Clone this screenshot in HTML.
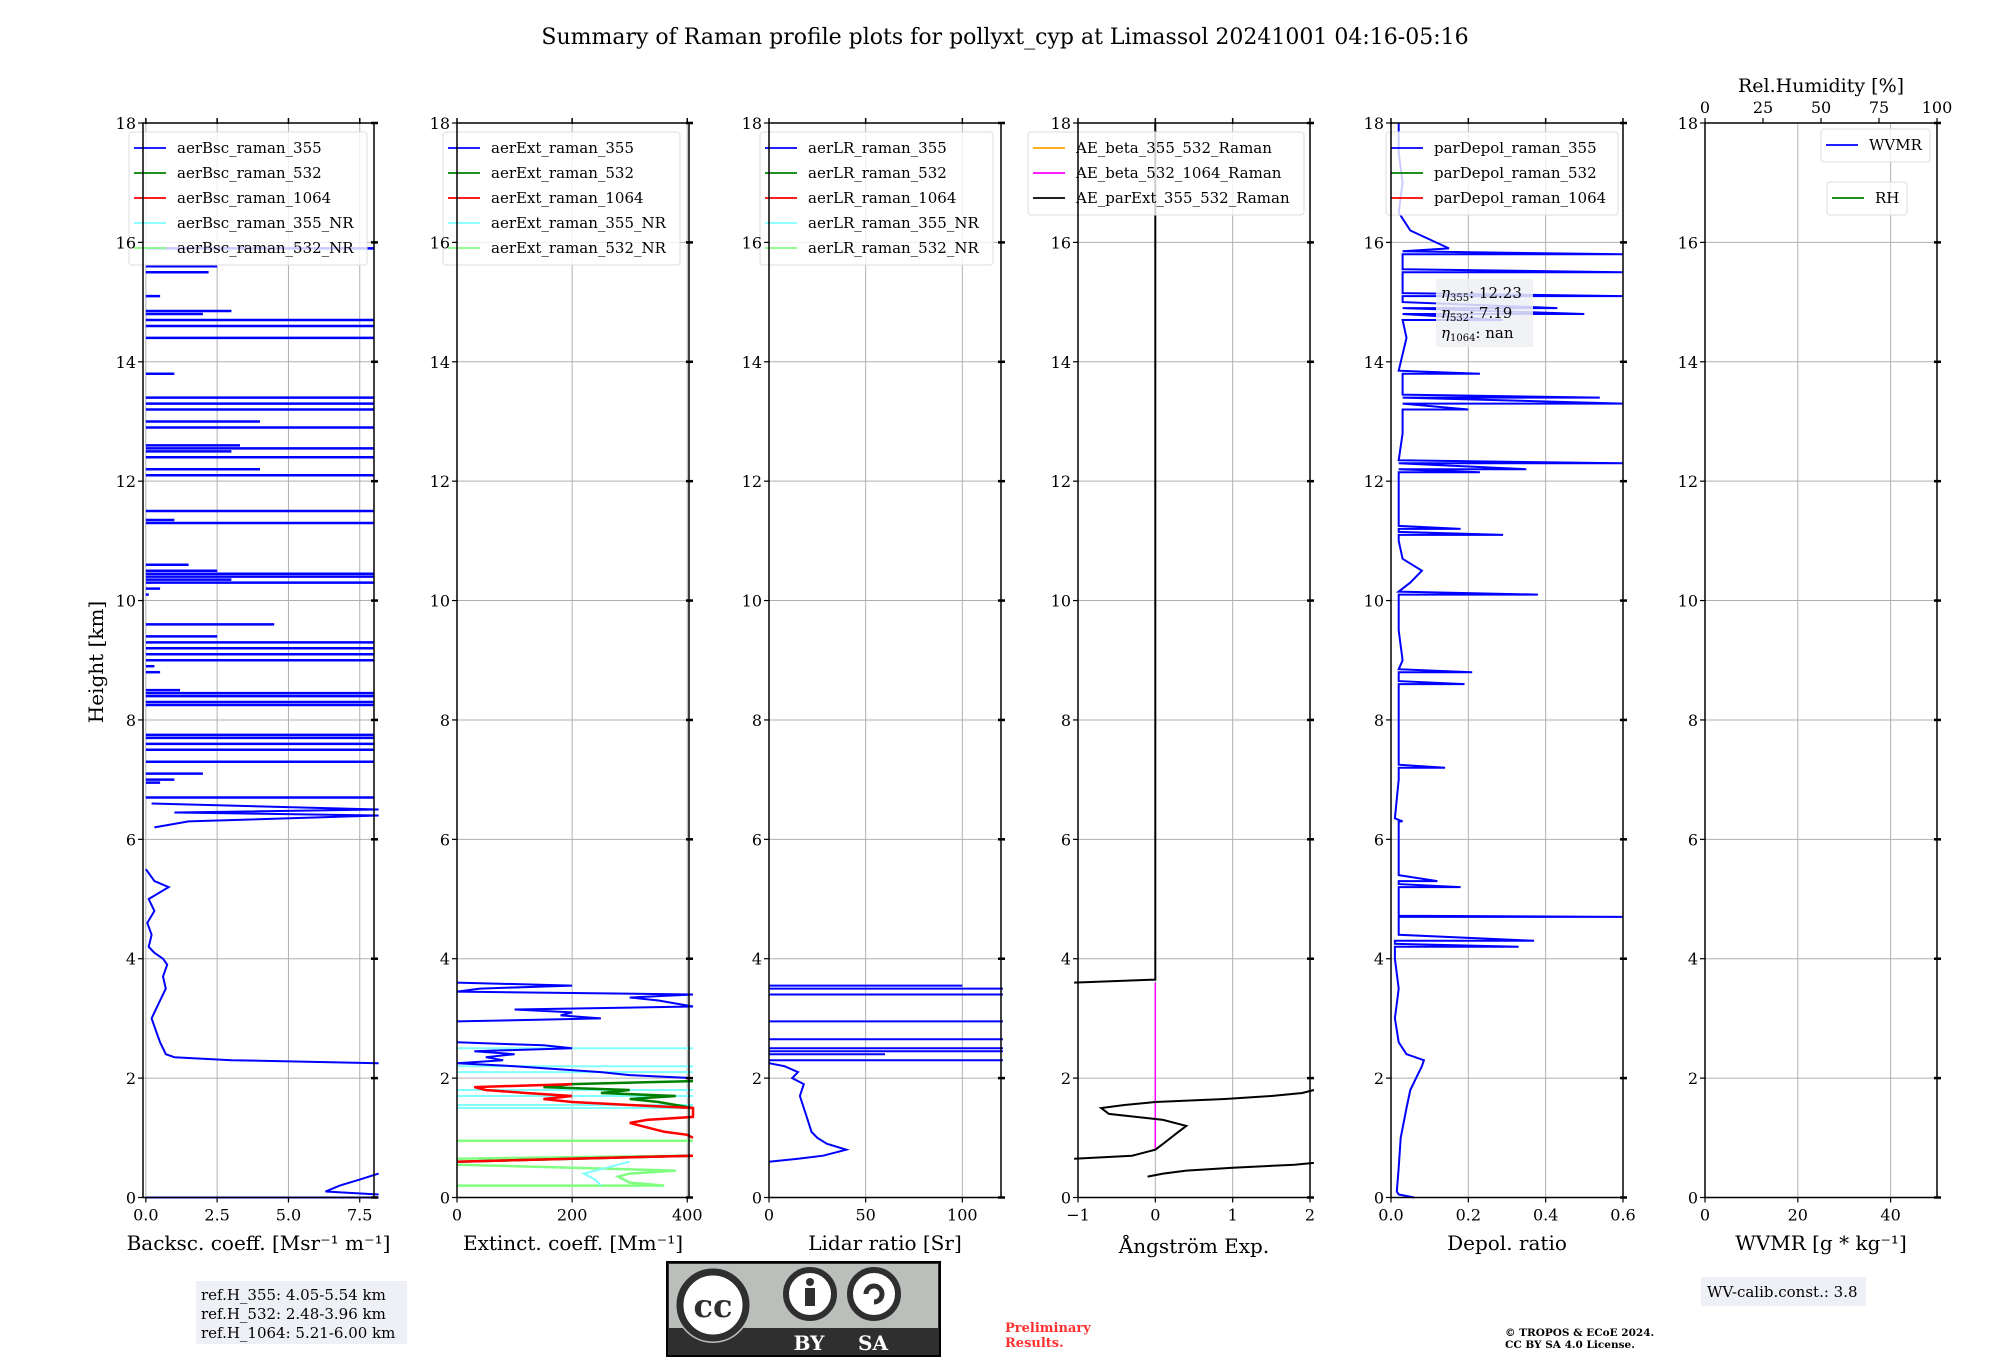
<!DOCTYPE html>
<html><head><meta charset="utf-8">
<style>
body{margin:0;background:#fff;}
svg text{font-family:"DejaVu Serif","Liberation Serif",serif;}
</style></head>
<body>
<svg id="fig" width="2000" height="1360" xmlns="http://www.w3.org/2000/svg">
<rect width="2000" height="1360" fill="#fff"/>
<text x="1005" y="44" font-size="22" text-anchor="middle">Summary of Raman profile plots for pollyxt_cyp at Limassol 20241001 04:16-05:16</text>
<text transform="translate(103,662) rotate(-90)" font-size="20" text-anchor="middle">Height [km]</text>
<g id="panels"></g>
<g>
<rect x="196" y="1281" width="211" height="63" fill="#eef0f5"/>
<text x="201" y="1300" font-size="15">ref.H_355: 4.05-5.54 km</text>
<text x="201" y="1319" font-size="15">ref.H_532: 2.48-3.96 km</text>
<text x="201" y="1338" font-size="15">ref.H_1064: 5.21-6.00 km</text>
</g>
<g>
<rect x="667" y="1262" width="273" height="94" fill="#2f2f2f" stroke="#000" stroke-width="2"/>
<rect x="669" y="1264" width="269" height="64" fill="#bbbfbb"/>
<circle cx="713" cy="1305" r="38" fill="#bbbfbb"/>
<circle cx="713" cy="1305" r="33" fill="#fff" stroke="#2f2f2f" stroke-width="7"/>
<text x="713" y="1317" font-size="32" font-weight="bold" text-anchor="middle" fill="#2f2f2f" font-family="Liberation Sans,sans-serif">cc</text>
<circle cx="810" cy="1294" r="24" fill="#fff" stroke="#2f2f2f" stroke-width="6"/>
<circle cx="810" cy="1282" r="4" fill="#2f2f2f"/><rect x="805" y="1288" width="10" height="18" fill="#2f2f2f"/>
<circle cx="874" cy="1294" r="24" fill="#fff" stroke="#2f2f2f" stroke-width="6"/>
<path d="M866 1294 a8 8 0 1 1 8 8" fill="none" stroke="#2f2f2f" stroke-width="5"/>
<text x="809" y="1350" font-size="20" font-weight="bold" fill="#fff" text-anchor="middle" font-family="Liberation Sans,sans-serif">BY</text>
<text x="873" y="1350" font-size="20" font-weight="bold" fill="#fff" text-anchor="middle" font-family="Liberation Sans,sans-serif">SA</text>
</g>
<text x="1005" y="1332" font-size="13" font-weight="bold" fill="#ff3030">Preliminary</text>
<text x="1005" y="1347" font-size="13" font-weight="bold" fill="#ff3030">Results.</text>
<text x="1505" y="1336" font-size="10.5" font-weight="bold">© TROPOS &amp; ECoE 2024.</text>
<text x="1505" y="1348" font-size="10.5" font-weight="bold">CC BY SA 4.0 License.</text>
<g>
<rect x="1701" y="1277" width="165" height="29" fill="#eef0f5"/>
<text x="1707" y="1297" font-size="15">WV-calib.const.: 3.8</text>
</g>
</svg>
<script>
var bsc355H=[0,0,null,0.05,0.1,0.2,0.3,0.4,null,2.25,2.3,2.35,2.4,2.5,2.6,2.8,3.0,3.1,3.3,3.5,3.7,3.9,4.0,4.1,4.2,4.4,4.6,4.8,5.0,5.2,5.3,5.5,null,6.2,6.3,6.4,6.45,6.5,6.6];
var bsc355V=[0,8.2,null,8.2,6.3,6.8,7.5,8.2,null,8.2,3,1.0,0.7,0.6,0.5,0.35,0.2,0.3,0.5,0.7,0.6,0.75,0.6,0.3,0.1,0.2,0.05,0.3,0.1,0.8,0.3,0.0,null,0.3,1.5,8.2,1.0,8.2,0.2];
var bscSpikeH=[6.7,6.95,7.0,7.1,7.3,7.5,7.6,7.7,7.75,8.25,8.3,8.4,8.45,8.5,8.8,8.9,9.0,9.1,9.2,9.3,9.4,9.6,10.1,10.2,10.3,10.35,10.4,10.45,10.5,10.6,11.3,11.35,11.5,12.1,12.2,12.4,12.5,12.55,12.6,12.9,13.0,13.2,13.3,13.4,13.8,14.4,14.6,14.7,14.8,14.85,15.1,15.5,15.6,15.9];
var bscSpikeV=[8.2,0.5,1.0,2.0,8.2,8.2,8.2,8.2,8.2,8.2,8.2,8.2,8.2,1.2,0.5,0.3,8.2,8.2,8.2,8.2,2.5,4.5,0.1,0.5,8.2,3,8.2,8.2,2.5,1.5,8.2,1,8.2,8.2,4,8.2,3,8.2,3.3,8.2,4,8.2,8.2,8.2,1,8.2,8.2,8.2,2,3,0.5,2.2,2.5,8.2];
var ext355H=[2.0,2.05,2.1,2.2,2.25,2.3,2.35,2.4,2.45,2.5,2.55,2.6,null,2.95,3.0,3.05,3.1,3.15,3.2,3.3,3.35,3.4,3.45,3.5,3.55,3.6];
var ext355V=[410,300,250,100,0,80,50,100,30,200,150,0,null,0,250,180,200,100,410,350,300,410,0,40,200,0];
var ext532H=[0.6,0.7,null,1.5,1.6,1.65,1.7,1.75,1.8,1.85,1.9,1.95];
var ext532V=[0,410,null,410,350,300,380,250,300,150,200,410];
var ext1064H=[0.6,0.7,null,1.0,1.05,1.1,1.2,1.25,1.3,1.35,1.5,1.55,1.6,1.65,1.7,1.75,1.8,1.85,1.9];
var ext1064V=[0,410,null,410,400,360,320,300,330,410,410,300,200,150,200,120,50,30,200];
var ext355NRH=[0.2,0.3,0.4,0.5,0.6,null,1.5,1.5,null,1.55,1.55,null,1.7,1.7,null,1.8,1.8,null,2.1,2.1,null,2.2,2.2,null,2.5,2.5];
var ext355NRV=[250,240,220,260,300,null,0,410,null,0,410,null,0,410,null,0,410,null,0,410,null,0,410,null,0,410];
var ext532NRH=[0.2,0.2,0.25,0.35,0.4,0.45,0.5,0.55,null,0.65,0.7,null,0.95,0.95];
var ext532NRV=[0,360,300,280,300,380,200,0,null,0,410,null,0,410];
var lrH=[0.6,0.65,0.7,0.8,0.9,1.0,1.1,1.3,1.5,1.7,1.9,2.0,2.1,2.2,2.25,null,2.3,2.3,null,2.4,2.4,null,2.45,2.45,null,2.5,2.5,null,2.65,2.65,null,2.95,2.95,null,3.4,3.4,null,3.5,3.5,null,3.55,3.55];
var lrV=[0,15,28,40,30,25,22,20,18,16,18,12,15,8,0,null,0,121,null,0,60,null,0,121,null,0,121,null,0,121,null,0,121,null,0,121,null,0,121,null,0,100];
var aeH=[0.35,0.4,0.45,0.5,0.55,0.58,null,0.65,0.7,0.8,0.9,1.0,1.1,1.2,1.3,1.4,1.5,1.55,1.6,1.65,1.7,1.75,1.8,null,3.6,3.65,18];
var aeV=[-0.1,0.1,0.4,1.0,1.8,2.05,null,-1.05,-0.3,0,0.1,0.2,0.3,0.4,0.1,-0.6,-0.7,-0.4,0,0.9,1.5,1.9,2.05,null,-1.05,0,0];
var ae532H=[0.8,3.6];
var ae532V=[0,0];
var dpH=[0,0.05,0.1,0.5,1.0,1.5,1.8,2.0,2.2,2.3,2.4,2.6,3.0,3.5,4.0,4.2,4.2,4.25,4.3,4.3,4.4,4.7,4.7,4.72,5.0,5.2,5.2,5.25,5.3,5.3,5.4,6.0,6.3,6.3,6.35,7.0,7.2,7.2,7.25,8.0,8.6,8.6,8.65,8.8,8.8,8.85,9.0,9.5,10.1,10.1,10.15,10.3,10.5,10.7,11.0,11.1,11.1,11.15,11.2,11.2,11.25,12.0,12.15,12.15,12.2,12.2,12.3,12.3,12.35,12.8,13.2,13.2,13.3,13.3,13.4,13.4,13.45,13.8,13.8,13.85,14.4,14.7,14.7,14.8,14.8,14.9,14.9,15.0,15.1,15.1,15.15,15.5,15.5,15.55,15.8,15.8,15.85,15.9,16.2,16.5,17.0,17.5,18];
var dpV=[0.06,0.02,0.015,0.02,0.025,0.04,0.05,0.065,0.08,0.085,0.04,0.02,0.01,0.02,0.01,0.01,0.33,0.01,0.01,0.37,0.02,0.02,0.6,0.02,0.02,0.02,0.18,0.02,0.02,0.12,0.02,0.02,0.02,0.03,0.01,0.02,0.02,0.14,0.02,0.02,0.02,0.19,0.02,0.02,0.21,0.02,0.03,0.02,0.02,0.38,0.02,0.05,0.08,0.03,0.02,0.02,0.29,0.02,0.02,0.18,0.02,0.02,0.02,0.23,0.02,0.35,0.02,0.6,0.02,0.03,0.03,0.2,0.03,0.6,0.03,0.54,0.03,0.03,0.23,0.02,0.04,0.03,0.29,0.03,0.5,0.03,0.43,0.03,0.03,0.6,0.03,0.03,0.6,0.03,0.03,0.6,0.03,0.15,0.05,0.02,0.03,0.02,0.02];

var Y0=1197.5, Y18=123;
function yS(h){return Y0+(Y18-Y0)*h/18;}
var NS="http://www.w3.org/2000/svg";
var root=document.getElementById('panels');
function mk(tag,attrs,parent){var e=document.createElementNS(NS,tag);for(var k in attrs)e.setAttribute(k,attrs[k]);(parent||root).appendChild(e);return e;}

var panels=[
 {left:143,w:231,min:-0.1,max:8.0,ticks:[0,2.5,5,7.5],lab:['0.0','2.5','5.0','7.5'],xl:'Backsc. coeff. [Msr\u207B\u00B9 m\u207B\u00B9]',name:'backscatter'},
 {left:457,w:232,min:0,max:403,ticks:[0,200,400],lab:['0','200','400'],xl:'Extinct. coeff. [Mm\u207B\u00B9]',name:'extinction'},
 {left:769,w:232,min:0,max:120,ticks:[0,50,100],lab:['0','50','100'],xl:'Lidar ratio [Sr]',name:'lidar-ratio'},
 {left:1078,w:232,min:-1,max:2,ticks:[-1,0,1,2],lab:['\u22121','0','1','2'],xl:'\u00C5ngstr\u00F6m Exp.',name:'angstrom'},
 {left:1391,w:232,min:0,max:0.6,ticks:[0,0.2,0.4,0.6],lab:['0.0','0.2','0.4','0.6'],xl:'Depol. ratio',name:'depol'},
 {left:1705,w:232,min:0,max:50,ticks:[0,20,40],lab:['0','20','40'],xl:'WVMR [g * kg\u207B\u00B9]',name:'wvmr'}
];
var yt=[0,2,4,6,8,10,12,14,16,18];

function xf(p){return function(v){return p.left+(v-p.min)/(p.max-p.min)*p.w;};}
function series(p,H,V,color,sw,name,g){
  var X=xf(p),d='',pen=false;
  for(var i=0;i<H.length;i++){
    if(H[i]===null){pen=false;continue;}
    var v=Math.max(p.min-1,Math.min(p.max+0.02*(p.max-p.min),V[i]));
    d+=(pen?'L':'M')+X(v).toFixed(1)+' '+yS(H[i]).toFixed(1);pen=true;
  }
  var e=mk('path',{d:d,fill:'none',stroke:color,'stroke-width':sw},g);
  
  
}
function spikes(p,H,V,color,name,g){
  var X=xf(p);
  for(var i=0;i<H.length;i++){
    var v=Math.min(p.max,V[i]);
    var e=mk('line',{x1:X(Math.max(p.min,0)),x2:X(v),y1:yS(H[i]),y2:yS(H[i]),stroke:color,'stroke-width':2.5},g);
    
    
  }
}
function legend(g,x,y,w,entries,name){
  var h=entries.length*25+8;
  var b=mk('rect',{x:x,y:y,width:w,height:h,fill:'#fff','fill-opacity':0.8,stroke:'#ddd',rx:3},g);
  
  
  entries.forEach(function(en,i){
    var cy=y+16+i*25;
    mk('line',{x1:x+5,x2:x+37,y1:cy,y2:cy,stroke:en[1],'stroke-width':1.8},g);
    var t=mk('text',{x:x+48,y:cy+5,'font-size':15},g);t.textContent=en[0];
    
    
  });
}

panels.forEach(function(p,idx){
  var g=mk('g',{});
  
  
  var X=xf(p);
  p.ticks.forEach(function(t){mk('line',{x1:X(t),x2:X(t),y1:Y18,y2:Y0,stroke:'#b0b0b0','stroke-width':1},g);});
  yt.forEach(function(t){mk('line',{x1:p.left,x2:p.left+p.w,y1:yS(t),y2:yS(t),stroke:'#b0b0b0','stroke-width':1},g);});
  if(idx==5){[0,25,50,75,100].forEach(function(t){var xx=p.left+t/100*p.w;mk('line',{x1:xx,x2:xx,y1:Y18,y2:Y18-5,stroke:'#000','stroke-width':1.2},g);var tl=mk('text',{x:xx,y:Y18-10,'font-size':16,'text-anchor':'middle'},g);tl.textContent=String(t);});
    var rt=mk('text',{x:p.left+p.w/2,y:92,'font-size':19,'text-anchor':'middle'},g);rt.textContent='Rel.Humidity [%]';
    
    }
  if(idx==0){series(p,bsc355H,bsc355V,'#0000ff',2,'aerBsc-355-line',g);spikes(p,bscSpikeH,bscSpikeV,'#0000ff','aerBsc-355-spike',g);
    legend(g,129,132,238,[['aerBsc_raman_355','#0000ff'],['aerBsc_raman_532','#008000'],['aerBsc_raman_1064','#ff0000'],['aerBsc_raman_355_NR','#80ffff'],['aerBsc_raman_532_NR','#80ff80']],'legend-backscatter');}
  if(idx==1){series(p,ext532NRH,ext532NRV,'#80ff80',2.5,'aerExt-532NR-line',g);series(p,ext355NRH,ext355NRV,'#80ffff',2,'aerExt-355NR-line',g);
    series(p,ext532H,ext532V,'#008000',2.5,'aerExt-532-line',g);series(p,ext1064H,ext1064V,'#ff0000',2.5,'aerExt-1064-line',g);series(p,ext355H,ext355V,'#0000ff',2,'aerExt-355-line',g);
    legend(g,443,132,237,[['aerExt_raman_355','#0000ff'],['aerExt_raman_532','#008000'],['aerExt_raman_1064','#ff0000'],['aerExt_raman_355_NR','#80ffff'],['aerExt_raman_532_NR','#80ff80']],'legend-extinction');}
  if(idx==2){series(p,lrH,lrV,'#0000ff',2,'aerLR-355-line',g);
    legend(g,760,132,233,[['aerLR_raman_355','#0000ff'],['aerLR_raman_532','#008000'],['aerLR_raman_1064','#ff0000'],['aerLR_raman_355_NR','#80ffff'],['aerLR_raman_532_NR','#80ff80']],'legend-lidar-ratio');}
  if(idx==3){series(p,ae532H,ae532V,'#ff00ff',1.5,'AE-532-1064-line',g);series(p,aeH,aeV,'#000000',2,'AE-parExt-line',g);
    legend(g,1028,132,276,[['AE_beta_355_532_Raman','#ffa500'],['AE_beta_532_1064_Raman','#ff00ff'],['AE_parExt_355_532_Raman','#000000']],'legend-angstrom');}
  if(idx==4){series(p,dpH,dpV,'#0000ff',2,'parDepol-355-line',g);
    legend(g,1386,132,232,[['parDepol_raman_355','#0000ff'],['parDepol_raman_532','#008000'],['parDepol_raman_1064','#ff0000']],'legend-depol');
    var eb=mk('rect',{x:1436,y:279,width:97,height:68,fill:'#eef0f5','fill-opacity':0.85},g);
    
    
    [['355','12.23'],['532','7.19'],['1064','nan']].forEach(function(e,i){var t=mk('text',{x:1441,y:298+i*20,'font-size':15},g);
      t.innerHTML='<tspan font-style="italic">\u03B7</tspan><tspan font-size="10" dy="3">'+e[0]+'</tspan><tspan dy="-3">: '+e[1]+'</tspan>';});}
  if(idx==5){legend(g,1821,129,109,[['WVMR','#0000ff']],'legend-wvmr');legend(g,1827,182,80,[['RH','#008000']],'legend-rh');}
  mk('rect',{x:p.left,y:Y18,width:p.w,height:Y0-Y18,fill:'none',stroke:'#000','stroke-width':1.5},g);
  yt.forEach(function(t){var y=yS(t);
    mk('line',{x1:p.left-5,x2:p.left,y1:y,y2:y,stroke:'#000','stroke-width':1.2},g);
    mk('line',{x1:p.left+p.w-3,x2:p.left+p.w+4,y1:y,y2:y,stroke:'#000','stroke-width':2.5},g);
    var tl=mk('text',{x:p.left-7,y:y+6,'font-size':16,'text-anchor':'end'},g);tl.textContent=String(t);
    
    });
  p.ticks.forEach(function(t,i){var x=X(t);
    mk('line',{x1:x,x2:x,y1:Y0,y2:Y0+5,stroke:'#000','stroke-width':1.2},g);
    if(idx<5)mk('line',{x1:x,x2:x,y1:Y18-5,y2:Y18+1,stroke:'#000','stroke-width':1.5},g);
    var tl=mk('text',{x:x,y:Y0+23,'font-size':16,'text-anchor':'middle'},g);tl.textContent=p.lab[i];
    
    });
  var xl=mk('text',{x:p.left+p.w/2,y:(idx==3?1253:1250),'font-size':20,'text-anchor':'middle'},g);xl.textContent=p.xl;
  
  
});
</script>
</body></html>
